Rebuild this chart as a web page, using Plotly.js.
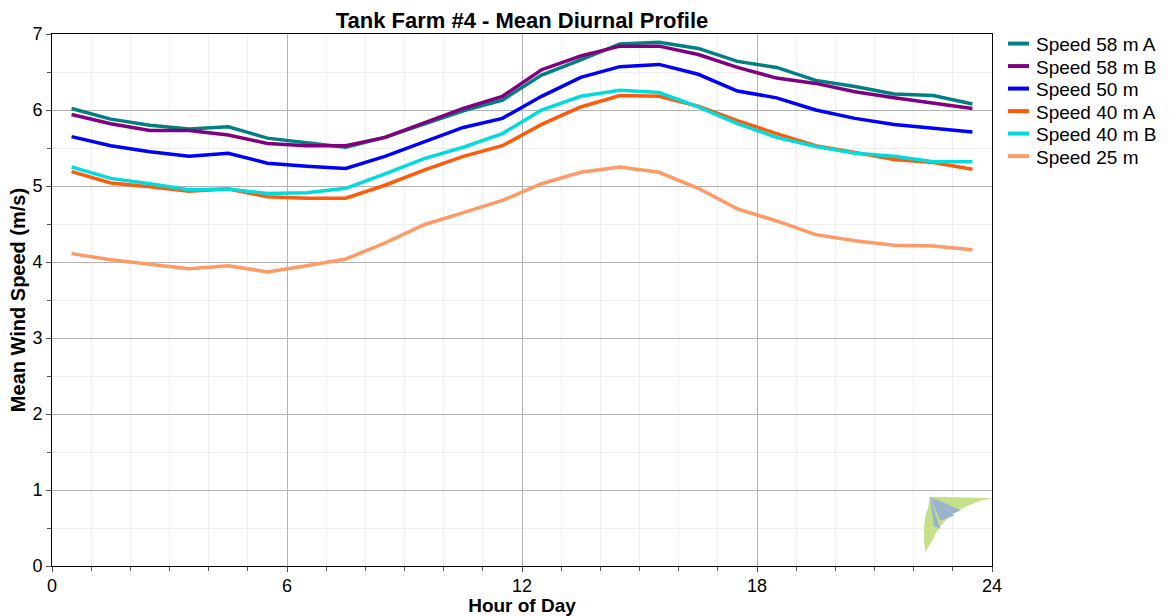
<!DOCTYPE html>
<html>
<head>
<meta charset="utf-8">
<script src="https://cdn.plot.ly/plotly-3.0.1.min.js"></script>
<style>html,body{margin:0;padding:0;background:#fff;}#chart{width:1169px;height:616px;}</style>
</head>
<body>
<div id="chart"></div>
<script>
const hours = [0.5,1.5,2.5,3.5,4.5,5.5,6.5,7.5,8.5,9.5,10.5,11.5,12.5,13.5,14.5,15.5,16.5,17.5,18.5,19.5,20.5,21.5,22.5,23.5];
const seriesNames = ["Speed 58 m A","Speed 58 m B","Speed 50 m","Speed 40 m A","Speed 40 m B","Speed 25 m"];
const speed58A = [6.02,5.88,5.80,5.75,5.78,5.63,5.57,5.51,5.64,5.82,5.99,6.13,6.46,6.66,6.87,6.89,6.81,6.64,6.56,6.39,6.31,6.21,6.19,6.08];
const speed58B = [5.94,5.82,5.73,5.73,5.67,5.56,5.53,5.53,5.64,5.83,6.02,6.18,6.53,6.71,6.84,6.84,6.73,6.56,6.42,6.35,6.24,6.16,6.09,6.02];
const speed50 = [5.65,5.53,5.45,5.39,5.43,5.30,5.26,5.23,5.39,5.58,5.77,5.89,6.18,6.43,6.57,6.60,6.47,6.25,6.16,6.00,5.89,5.81,5.76,5.71];
const speed40A = [5.19,5.04,4.99,4.93,4.96,4.86,4.84,4.84,5.01,5.21,5.39,5.53,5.81,6.04,6.19,6.18,6.05,5.86,5.69,5.53,5.44,5.35,5.31,5.22];
const speed40B = [5.25,5.10,5.03,4.95,4.96,4.90,4.91,4.97,5.16,5.36,5.51,5.69,6.00,6.18,6.26,6.23,6.04,5.82,5.64,5.52,5.43,5.39,5.32,5.32];
const speed25 = [4.11,4.03,3.97,3.91,3.95,3.87,3.95,4.04,4.25,4.49,4.65,4.81,5.03,5.18,5.25,5.18,4.97,4.70,4.54,4.36,4.28,4.22,4.21,4.16];
const xTicks = [0,6,12,18,24];
const yTicks = [0,1,2,3,4,5,6,7];

const allSeries = [speed58A, speed58B, speed50, speed40A, speed40B, speed25];
const colors = ["#008080","#800080","#0000ff","#ff5a0a","#00dcdc","#ff9966"];

const traces = allSeries.map((ys, i) => ({
  x: hours, y: ys, name: seriesNames[i], type: 'scatter', mode: 'lines',
  line: {color: colors[i], width: 3.5}, showlegend: false
}));

const font = {family: 'Liberation Sans, Arial, sans-serif', color: '#000'};

// Manual legend (paper coordinates), compact row spacing as in the reference
const legendTop = 0.982, legendStep = 0.0423;
const legendShapes = seriesNames.map((n, i) => ({
  type: 'line', xref: 'paper', yref: 'paper',
  x0: 1.017, x1: 1.0394, y0: legendTop - i * legendStep, y1: legendTop - i * legendStep,
  line: {color: colors[i], width: 4}
}));
const legendAnnotations = seriesNames.map((n, i) => ({
  text: n, xref: 'paper', yref: 'paper', x: 1.0445, y: legendTop - i * legendStep - 0.002,
  xanchor: 'left', yanchor: 'middle', showarrow: false,
  font: Object.assign({}, font, {size: 19})
}));

const layout = {
  width: 1169, height: 616,
  margin: {l: 52, r: 177, t: 34, b: 50},
  paper_bgcolor: '#fff', plot_bgcolor: '#fff',
  font: Object.assign({}, font, {size: 18}),
  title: {text: '<b>Tank Farm #4 - Mean Diurnal Profile</b>', font: Object.assign({}, font, {size: 22}), xref: 'paper', x: 0.5, xanchor: 'center', yref: 'container', y: 0.967, yanchor: 'middle'},
  xaxis: {
    range: [0, 24], tickvals: xTicks, ticktext: xTicks.map(String),
    showgrid: true, gridcolor: '#b4b4b4', gridwidth: 1,
    showline: true, linecolor: '#000', linewidth: 1, mirror: true,
    ticks: 'outside', ticklen: 5, tickcolor: '#555', zeroline: false,
    tickfont: Object.assign({}, font, {size: 18}), ticklabelstandoff: -2,
    minor: {dtick: 1, ticks: 'outside', ticklen: 4, tickcolor: '#555', showgrid: true, gridcolor: '#efefef', gridwidth: 1},
    title: {text: '<b>Hour of Day</b>', font: Object.assign({}, font, {size: 19}), standoff: 0}
  },
  yaxis: {
    range: [0, 7], tickvals: yTicks, ticktext: yTicks.map(String),
    showgrid: true, gridcolor: '#b4b4b4', gridwidth: 1,
    showline: true, linecolor: '#000', linewidth: 1, mirror: true,
    ticks: 'outside', ticklen: 5, tickcolor: '#555', zeroline: false,
    tickfont: Object.assign({}, font, {size: 18}),
    minor: {dtick: 0.5, ticks: 'outside', ticklen: 4, tickcolor: '#555', showgrid: true, gridcolor: '#efefef', gridwidth: 1},
    title: {text: '<b>Mean Wind Speed (m/s)</b>', font: Object.assign({}, font, {size: 20}), standoff: 1}
  },
  showlegend: false,
  annotations: legendAnnotations,
  shapes: legendShapes.concat([
    {type: 'path', xref: 'paper', yref: 'paper', path: 'M 0.934 0.13 L 1.0 0.128 Q 0.952 0.11 0.937 0.05 L 0.929 0.026 Q 0.925 0.08 0.932 0.11 Z', fillcolor: '#c6e08a', line: {width: 0}},
    {type: 'path', xref: 'paper', yref: 'paper', path: 'M 0.934 0.13 L 0.96 0.095 L 0.945 0.085 Z', fillcolor: '#9ab4d0', line: {width: 0}},
    {type: 'path', xref: 'paper', yref: 'paper', path: 'M 0.934 0.13 L 0.967 0.105 L 0.958 0.098 Z', fillcolor: '#9ab4d0', line: {width: 0}},
    {type: 'path', xref: 'paper', yref: 'paper', path: 'M 0.934 0.13 L 0.938 0.075 L 0.945 0.07 Z', fillcolor: '#9ab4d0', line: {width: 0}}
  ])
};

Plotly.newPlot('chart', traces, layout, {displayModeBar: false, staticPlot: true});
</script>
</body>
</html>
